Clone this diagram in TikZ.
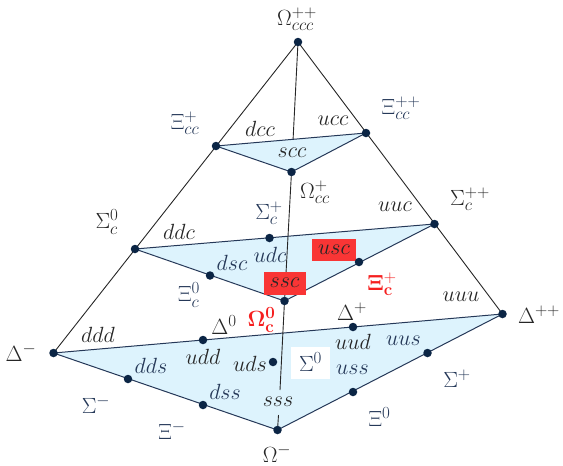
\documentclass[tikz,border=0pt]{standalone}
\usepackage{fix-cm}
\usepackage{amsmath}
\DeclareMathSizes{22}{22}{17}{13}
\definecolor{navy}{HTML}{0B2545}
\definecolor{face}{HTML}{DDF3FD}
\definecolor{bluetxt}{HTML}{253858}
\definecolor{redbox}{HTML}{F93535}
\definecolor{redtxt}{HTML}{F51F1F}
\tikzset{
  dot/.style={circle,fill=navy,inner sep=0pt,minimum size=8.5pt},
  lab/.style={inner sep=0pt,font=\fontsize{22}{24}\selectfont,text=black!85},
  blab/.style={lab,text=bluetxt},
  rlab/.style={lab,text=redtxt},
  edge/.style={line width=0.9pt,draw=black!85},
  faceedge/.style={line width=1pt,draw=bluetxt,fill=face,line join=round},
  hidebox/.style={inner sep=0pt,fill=#1}
}
\begin{document}
\begin{tikzpicture}[x=1pt,y=-1pt]
\useasboundingbox (0,0) rectangle (563,466);
% positions
\coordinate (T) at (298,42);
\coordinate (A) at (216,146);
\coordinate (B) at (366,133);
\coordinate (C) at (291.5,172);
\coordinate (D) at (135,249);
\coordinate (E) at (269.5,238);
\coordinate (F) at (434.5,224);
\coordinate (G) at (210,275.5);
\coordinate (H) at (359,262);
\coordinate (I) at (284.5,301);
\coordinate (J) at (53.5,353);
\coordinate (K) at (203,340);
\coordinate (L) at (353,327);
\coordinate (M) at (502.5,314);
\coordinate (N) at (128,379);
\coordinate (O) at (203,405);
\coordinate (P) at (277.5,430);
\coordinate (Q) at (353,392);
\coordinate (R) at (427.5,353);
\coordinate (S) at (273,362);
\coordinate (topmid) at (293,141);
\coordinate (sssup) at (280,390);
\coordinate (sssdown) at (278.5,415);
% outer edges
\draw[edge] (T) -- (J);
\draw[edge] (T) -- (M);
\draw[edge] (T) -- (topmid);
% faces
\draw[faceedge] (A) -- (B) -- (C) -- cycle;
\draw[faceedge] (D) -- (F) -- (I) -- cycle;
\draw[faceedge] (J) -- (M) -- (P) -- cycle;
% central axis
\draw[edge] (C) -- (I);
\draw[edge] (I) -- (sssup);
\draw[edge] (sssdown) -- (P);
% boxes
\node[hidebox=redbox,minimum width=44pt,minimum height=22pt] (usc) at (334,249.5) {};
\node[lab] at (usc) {$usc$};
\node[hidebox=redbox,minimum width=42pt,minimum height=23pt] (ssc) at (284.5,283) {};
\node[lab] at (ssc) {$ssc$};
\node[hidebox=white,minimum width=39pt,minimum height=32pt] (sig) at (310.5,362.5) {};
\node[blab] at (sig) {$\Sigma^0$};
% dots
\foreach \p in {T,A,B,C,D,E,F,G,H,I,J,K,L,M,N,O,P,Q,R,S}
  \node[dot] (d\p) at (\p) {};
% labels
\node[lab] at (297,19) {$\Omega_{ccc}^{++}$};
\node[blab] at (185,123) {$\Xi_{cc}^{+}$};
\node[blab] at (401,108) {$\Xi_{cc}^{++}$};
\node[lab] at (260,129) {$dcc$};
\node[lab] at (333,121) {$ucc$};
\node[lab] at (292,153) {$scc$};
\node[lab] at (315,192) {$\Omega_{cc}^{+}$};
\node[blab] at (269,213) {$\Sigma_{c}^{+}$};
\node[lab] at (395,207) {$uuc$};
\node[lab] at (470,199) {$\Sigma_{c}^{++}$};
\node[lab] at (107,222) {$\Sigma_{c}^{0}$};
\node[lab] at (179,232) {$ddc$};
\node[blab] at (270,255) {$udc$};
\node[blab] at (232,263) {$dsc$};
\node[blab] at (189,295) {$\Xi_{c}^{0}$};
\node[rlab] at (382,284) {$\mathbf{\Xi_{c}^{+}}$};
\node[rlab] at (261.5,320) {$\mathbf{\Omega_{c}^{0}}$};
\node[lab] at (224,325) {$\Delta^{0}$};
\node[lab] at (352,312) {$\Delta^{+}$};
\node[lab] at (461,297) {$uuu$};
\node[lab] at (539,315) {$\Delta^{++}$};
\node[lab] at (21,353) {$\Delta^{-}$};
\node[lab] at (98,335) {$ddd$};
\node[lab] at (203,357) {$udd$};
\node[lab] at (250,364) {$uds$};
\node[lab] at (353,342) {$uud$};
\node[blab] at (403.5,341) {$uus$};
\node[blab] at (352.5,370) {$uss$};
\node[blab] at (151,366) {$dds$};
\node[blab] at (225,392) {$dss$};
\node[lab] at (278,402) {$sss$};
\node[blab] at (96,405) {$\Sigma^{-}$};
\node[blab] at (172,431) {$\Xi^{-}$};
\node[blab] at (379.5,417) {$\Xi^{0}$};
\node[blab] at (457,379) {$\Sigma^{+}$};
\node[lab] at (277,454) {$\Omega^{-}$};
\end{tikzpicture}
\end{document}
